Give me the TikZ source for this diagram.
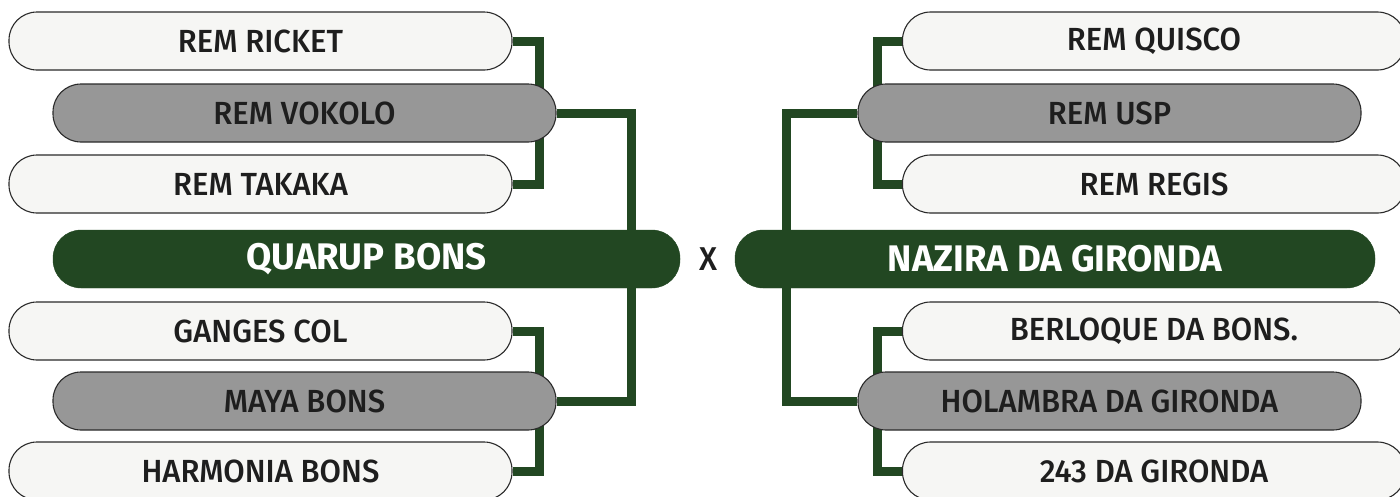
\documentclass[tikz,border=0pt]{standalone}
\usepackage{fontspec}
\setmainfont{Fira Sans}
\newfontfamily\labfont{Fira Sans Medium}[FakeStretch=0.97]
\newfontfamily\bigfont{Fira Sans Bold}[FakeStretch=0.99]
\pgfdeclarelayer{background}
\pgfsetlayers{background,main}
\definecolor{dgreen}{HTML}{224722}
\definecolor{gfill}{HTML}{979797}
\definecolor{wfill}{HTML}{F6F6F4}
\definecolor{edge}{HTML}{2A2A2A}
\definecolor{txt}{HTML}{1E1E1E}
\tikzset{
  team/.style={rectangle, rounded corners=28pt, minimum height=58pt, minimum width=503pt,
    inner sep=0pt, draw=edge, line width=1.1pt, text=txt, font=\labfont\fontsize{32}{32}\selectfont},
  light/.style={team, fill=wfill},
  grey/.style={team, fill=gfill},
  final/.style={rectangle, rounded corners=28pt, minimum height=58pt, inner sep=0pt,
    fill=dgreen, draw=dgreen, text=white, font=\bigfont\fontsize{37}{37}\selectfont},
  link/.style={draw=dgreen, line width=9pt, line join=miter, line cap=butt}
}
\begin{document}
\begin{tikzpicture}[x=1pt,y=-1pt]
\useasboundingbox (0,0) rectangle (1400,496);
\clip (0,0) rectangle (1400,496);
% left side
\node[light] (ricket) at (260.5,41) {REM RICKET};
\node[light] (takaka) at (260.5,184) {REM TAKAKA};
\node[light] (ganges) at (260.5,331) {GANGES COL};
\node[light] (harmonia) at (260.5,471) {HARMONIA BONS};
\node[grey] (vokolo) at (304.5,113) {REM VOKOLO};
\node[grey] (maya) at (304.5,401) {MAYA BONS};
\node[final, minimum width=627pt] (quarup) at (366.5,259) {QUARUP BONS};
% right side
\node[light] (quisco) at (1154,41) {REM QUISCO};
\node[light] (regis) at (1154,184) {REM REGIS};
\node[light] (berloque) at (1154,331) {BERLOQUE DA BONS.};
\node[light] (g243) at (1154,471) {243 DA GIRONDA};
\node[grey] (usp) at (1109.5,113) {REM USP};
\node[grey] (holambra) at (1109.5,401) {HOLAMBRA DA GIRONDA};
\node[final, minimum width=640pt] (nazira) at (1055,259) {NAZIRA DA GIRONDA};
\node[text=txt, font=\labfont\fontsize{33}{33}\selectfont] (vs) at (708,259) {X};
% connector columns
\coordinate (l1) at (539,0);
\coordinate (l2) at (631,0);
\coordinate (r1) at (877,0);
\coordinate (r2) at (786,0);
\begin{pgfonlayer}{background}
\draw[link] (ricket.east) -- (ricket.east -| l1) -- (takaka.east -| l1) -- (takaka.east);
\draw[link] (ganges.east) -- (ganges.east -| l1) -- (harmonia.east -| l1) -- (harmonia.east);
\draw[link] (vokolo.east) -- (vokolo.east -| l2) -- (maya.east -| l2) -- (maya.east);
\draw[link] (quisco.west) -- (quisco.west -| r1) -- (regis.west -| r1) -- (regis.west);
\draw[link] (berloque.west) -- (berloque.west -| r1) -- (g243.west -| r1) -- (g243.west);
\draw[link] (usp.west) -- (usp.west -| r2) -- (holambra.west -| r2) -- (holambra.west);
\end{pgfonlayer}
\end{tikzpicture}
\end{document}
